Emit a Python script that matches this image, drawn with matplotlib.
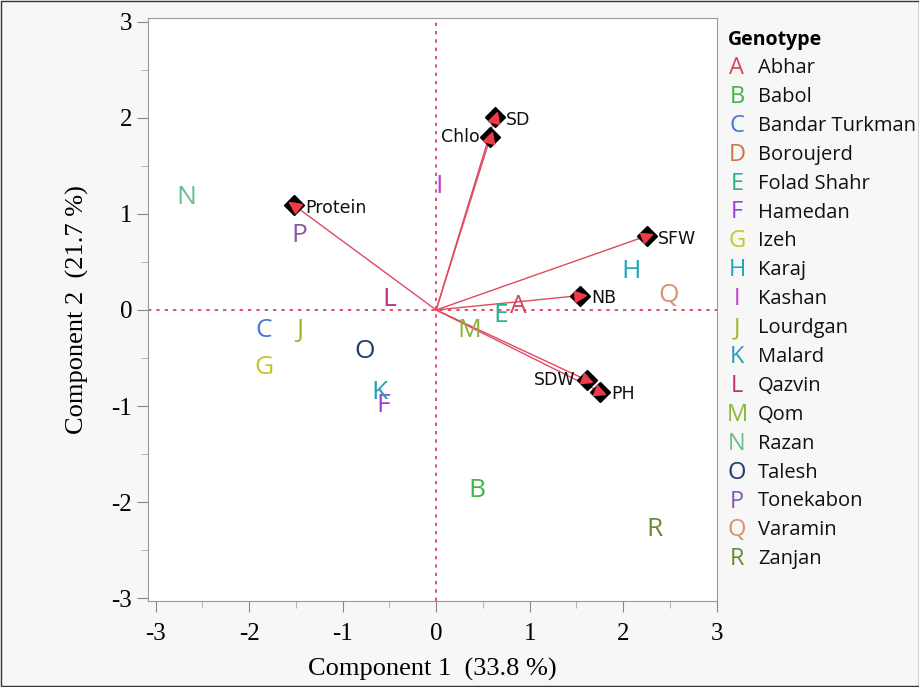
import matplotlib
matplotlib.use("Agg")
import matplotlib.pyplot as plt
from matplotlib.markers import MarkerStyle
from matplotlib.ticker import MultipleLocator
import numpy as np

plt.rcParams["axes.unicode_minus"] = False

# Genotype scores
letters = list("ABCDEFGHIJKLMNOPQR")
names = ["Abhar", "Babol", "Bandar Turkman", "Boroujerd", "Folad Shahr", "Hamedan",
         "Izeh", "Karaj", "Kashan", "Lourdgan", "Malard", "Qazvin", "Qom", "Razan",
         "Talesh", "Tonekabon", "Varamin", "Zanjan"]
score_x = [0.88, 0.44, -1.84, None, 0.69, -0.57, -1.84, 2.08, 0.03, -1.46, -0.61, -0.50,
           0.35, -2.67, -0.76, -1.46, 2.49, 2.33]
score_y = [0.04, -1.88, -0.21, None, -0.06, -0.99, -0.60, 0.40, 1.28, -0.21, -0.86, 0.11,
           -0.21, 1.17, -0.43, 0.77, 0.15, -2.28]
colors = ["#d9465c", "#3fb54a", "#4d74d6", "#c97a48", "#25b28e", "#9a3fdc", "#c8c42a",
          "#20a9b8", "#c43ec8", "#a6b22c", "#2a9fb2", "#c2307e", "#8db43a", "#68c08e",
          "#1e3c6c", "#8a5aa8", "#da9272", "#6a8c30"]

# Variable loadings
var_names = ["SD", "Chlo", "Protein", "SFW", "NB", "SDW", "PH"]
load_x = [0.63, 0.58, -1.52, 2.25, 1.54, 1.61, 1.75]
load_y = [2.01, 1.80, 1.09, 0.77, 0.15, -0.73, -0.85]
label_side = ["right", "left", "right", "right", "right", "left", "right"]

fig = plt.figure(figsize=(9.2, 6.87), dpi=100, facecolor="#f7f7f7")
ax = fig.add_axes([0.161, 0.125, 0.618, 0.849])
ax.set_facecolor("white")
ax.set_xlim(-3.08, 3.0)
ax.set_ylim(-3.03, 3.04)

ax.axhline(0, color="#e03050", lw=1.2, ls=(0, (2, 3)), zorder=1)
ax.axvline(0, color="#e03050", lw=1.2, ls=(0, (2, 3)), zorder=1)

for vx, vy, nm, side in zip(load_x, load_y, var_names, label_side):
    ax.plot([0, vx], [0, vy], color="#e04a60", lw=1.0, zorder=2)
    ax.plot(vx, vy, marker="D", ms=10, color="black", zorder=3)
    ang = np.degrees(np.arctan2(vy, vx)) - 90
    m = MarkerStyle("^")
    m._transform = m.get_transform().rotate_deg(ang)
    ax.plot(vx, vy, marker=m, ms=8, color="#f03a4a", mec="#f03a4a", zorder=4)
    if side == "right":
        ax.annotate(nm, (vx, vy), xytext=(8, -2), textcoords="offset points",
                    ha="left", va="center", fontsize=12.5, family="DejaVu Sans", color="#111111")
    else:
        ax.annotate(nm, (vx, vy), xytext=(-8, 0), textcoords="offset points",
                    ha="right", va="center", fontsize=12.5, family="DejaVu Sans", color="#111111")

for lt, sx, sy, c in zip(letters, score_x, score_y, colors):
    if sx is None:
        continue
    ax.text(sx, sy, lt, color=c, fontsize=19, ha="center", va="center",
            family="Open Sans", zorder=5)

ax.xaxis.set_major_locator(MultipleLocator(1))
ax.xaxis.set_minor_locator(MultipleLocator(0.5))
ax.yaxis.set_major_locator(MultipleLocator(1))
ax.yaxis.set_minor_locator(MultipleLocator(0.5))
ax.tick_params(which="major", length=8, color="#888888", labelsize=18)
ax.tick_params(axis="x", which="major", pad=8)
ax.tick_params(which="minor", length=5, color="#aaaaaa")
for lab in ax.get_xticklabels() + ax.get_yticklabels():
    lab.set_family("Liberation Serif")
for sp in ax.spines.values():
    sp.set_color("#999999")
ax.set_xlabel("Component 1  (33.8 %)", fontsize=19, family="Liberation Serif", labelpad=9)
ax.set_ylabel("Component 2  (21.7 %)", fontsize=19, family="Liberation Serif", labelpad=16)

# Legend
fig.text(728 / 920, 1 - 40 / 687, "Genotype", fontsize=14, fontweight="bold",
         family="Open Sans", va="center", ha="left")
for i, (lt, nm, c) in enumerate(zip(letters, names, colors)):
    yy = 1 - (68 + i * 28.9) / 687
    fig.text(737 / 920, yy, lt, color=c, fontsize=17, family="Open Sans", va="center", ha="center")
    fig.text(758 / 920, yy, nm, color="#111111", fontsize=14.5, family="Open Sans", va="center", ha="left")

# outer border
fig.patches.append(plt.Rectangle((0.001, 0.001), 0.998, 0.998, transform=fig.transFigure,
                                 fill=False, edgecolor="#333333", lw=1))

fig.savefig("out.png", dpi=100, facecolor=fig.get_facecolor())
